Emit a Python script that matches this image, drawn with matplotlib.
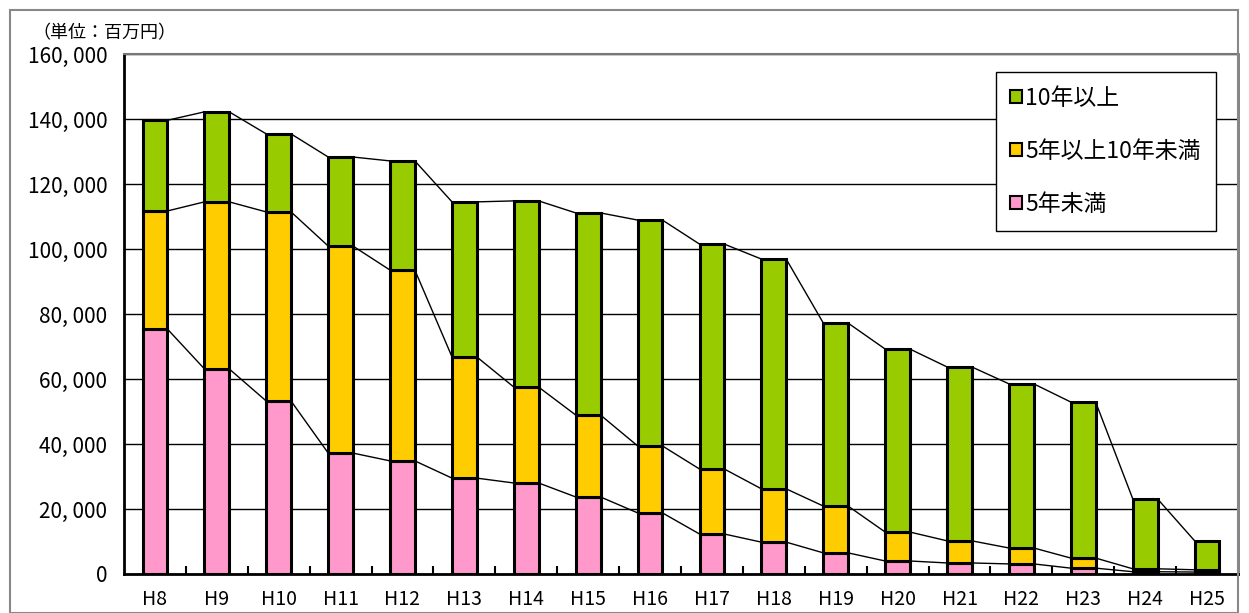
import numpy as np
import matplotlib.pyplot as plt
from matplotlib.patches import Patch, Rectangle

plt.rcParams['font.family'] = ['Noto Sans CJK JP', 'DejaVu Sans']

# 年度
years = ['H8', 'H9', 'H10', 'H11', 'H12', 'H13', 'H14', 'H15', 'H16',
         'H17', 'H18', 'H19', 'H20', 'H21', 'H22', 'H23', 'H24', 'H25']
# 5年未満
under5 = [75400, 63100, 53200, 37200, 34800, 29500, 28000, 23700, 18800,
          12300, 9800, 6500, 4000, 3400, 3100, 1800, 700, 600]
# 5年以上10年未満
mid = [36300, 51400, 58200, 63700, 58700, 37300, 29500, 25200, 20600,
       20000, 16400, 14400, 8900, 6800, 4900, 3100, 900, 700]
# 10年以上
over10 = [27900, 27700, 24000, 27400, 33600, 47700, 57300, 62200, 69500,
          69200, 70700, 56300, 56300, 53500, 50500, 48000, 21500, 8900]

under5 = np.array(under5)
mid = np.array(mid)
over10 = np.array(over10)

fig = plt.figure(figsize=(12.49, 6.13), dpi=100)
ax = fig.add_axes([124 / 1249, 39 / 613, 1114 / 1249, 520 / 613])

x = np.arange(len(years))
w = 0.4
c_pink = '#ff99cc'
c_yel = '#ffcc00'
c_grn = '#99cc00'

ax.bar(x, under5, w, color=c_pink, edgecolor='black', linewidth=2.2, zorder=3)
ax.bar(x, mid, w, bottom=under5, color=c_yel, edgecolor='black', linewidth=2.2, zorder=3)
ax.bar(x, over10, w, bottom=under5 + mid, color=c_grn, edgecolor='black', linewidth=2.2, zorder=3)

# series lines between bars
for top in [under5, under5 + mid, under5 + mid + over10]:
    for i in range(len(x) - 1):
        ax.plot([x[i] + w / 2, x[i + 1] - w / 2], [top[i], top[i + 1]],
                color='black', linewidth=1, zorder=2)

ax.set_xlim(-0.5, len(years) - 0.5)
ax.set_ylim(0, 160000)
yt = np.arange(0, 160001, 20000)
ax.set_yticks(yt)
ax.set_yticklabels(['0' if v == 0 else '{:,}'.format(v).replace(',', ', ') for v in yt],
                   fontsize=15)
ax.set_xticks(x)
ax.set_xticklabels(years, fontsize=14)
ax.set_xticks(np.arange(0.5, len(years) - 1, 1), minor=True)
ax.tick_params(axis='x', which='major', length=0, pad=11)
ax.tick_params(axis='x', which='minor', direction='in', length=6, width=1.5)
ax.tick_params(axis='y', length=0, pad=12)

ax.yaxis.grid(True, color='black', linewidth=1, zorder=1)
ax.set_axisbelow(True)
ax.spines['left'].set_linewidth(2)
ax.spines['bottom'].set_linewidth(2)
ax.spines['top'].set_color('#777777')
ax.spines['top'].set_linewidth(1.5)
ax.spines['right'].set_color('#777777')
ax.spines['right'].set_linewidth(2)

handles = [Patch(facecolor=c_grn, edgecolor='black', linewidth=1.5),
           Patch(facecolor=c_yel, edgecolor='black', linewidth=1.5),
           Patch(facecolor=c_pink, edgecolor='black', linewidth=1.5)]
leg = ax.legend(handles, ['10年以上', '5年以上10年未満', '5年未満'],
                loc='upper right', bbox_to_anchor=(0.98, 0.965), fontsize=16.5,
                handlelength=0.5, handleheight=0.5, handletextpad=0.15,
                labelspacing=1.3, borderpad=0.65, borderaxespad=0,
                fancybox=False, framealpha=1, edgecolor='black')
leg.get_frame().set_linewidth(1)

fig.text(32 / 1249, 1 - 33 / 613, '（単位：百万円）', fontsize=13, va='center')

# outer border
fig.patches.append(Rectangle((10 / 1249, 0), 1228 / 1249, 603 / 613,
                             transform=fig.transFigure, fill=False,
                             edgecolor='#888888', linewidth=1.5))

fig.savefig('out.png', dpi=100)
